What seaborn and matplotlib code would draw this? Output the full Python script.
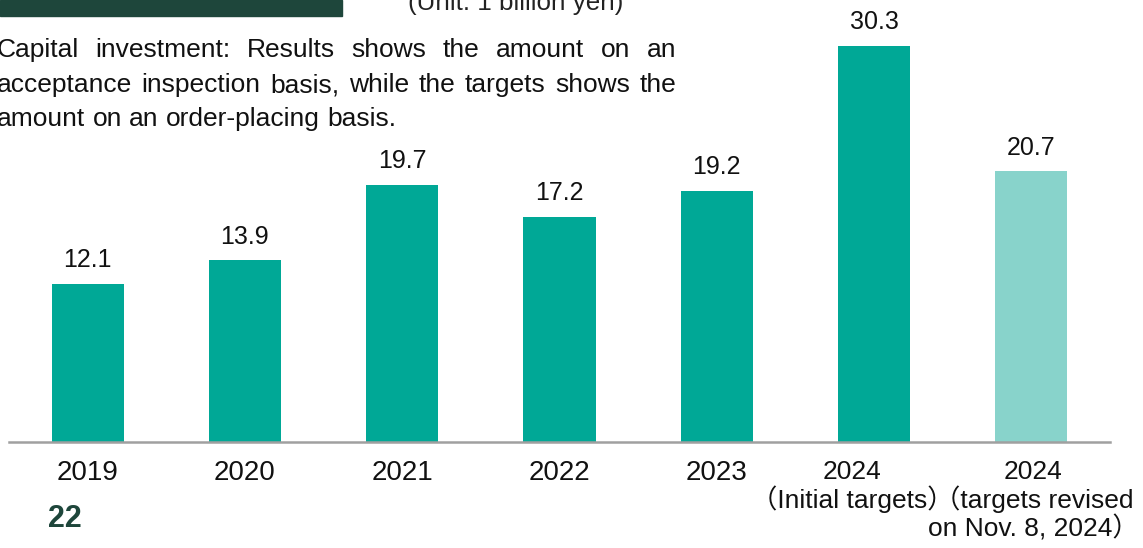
import matplotlib
matplotlib.use("Agg")
import matplotlib.pyplot as plt
import matplotlib.transforms as mtransforms
import seaborn as sns
from matplotlib.patches import Rectangle

categories = ["2019", "2020", "2021", "2022", "2023",
              "2024\n（Initial targets）",
              "2024\n（targets revised\non Nov. 8, 2024）"]
values = [12.1, 13.9, 19.7, 17.2, 19.2, 30.3, 20.7]
bar_colors = ["#00a896", "#00a896", "#00a896", "#00a896", "#00a896", "#00a896", "#88d3cb"]
note_lines = ["Capital investment: Results shows the amount on an",
              "acceptance inspection basis, while the targets shows the",
              "amount on an order-placing basis."]
unit_text = "(Unit: 1 billion yen)"
page_number = "22"

sns.set_theme(style="white")
plt.rcParams["font.family"] = ["Liberation Sans", "Noto Sans CJK JP", "DejaVu Sans"]

W, H = 1143, 548
fig = plt.figure(figsize=(W / 100, H / 100), dpi=100)
ax = fig.add_axes([9 / W, (H - 442) / H, 1101 / W, 442 / H])

sns.barplot(x=categories, y=values, hue=categories, palette=bar_colors,
            width=0.458, saturation=1, legend=False, ax=ax, linewidth=0)

for c in ax.containers:
    ax.bar_label(c, fmt="%.1f", padding=8.5, fontsize=18, color="#111111")

ax.set_xlim(-0.5, 6.5)
ax.set_ylim(0, 442 / 13.07)
ax.set_xlabel("")
ax.set_ylabel("")
ax.set_yticks([])
ax.tick_params(axis="x", length=0, pad=13, labelsize=20, colors="#111111")
labels = ax.get_xticklabels()
for lbl in labels:
    lbl.set_linespacing(1.08)
# the two 2024 labels: slightly smaller and nudged apart so they do not collide
labels[5].set_fontsize(19)
labels[6].set_fontsize(19)
labels[5].set_transform(labels[5].get_transform() +
                        mtransforms.ScaledTranslation(-0.22, 0, fig.dpi_scale_trans))
labels[6].set_transform(labels[6].get_transform() +
                        mtransforms.ScaledTranslation(0.02, 0, fig.dpi_scale_trans))
for s in ["top", "left", "right"]:
    ax.spines[s].set_visible(False)
ax.spines["bottom"].set_color("#a0a0a0")
ax.spines["bottom"].set_linewidth(1.8)

# header box
fig.patches.append(Rectangle((0, 1 - 16 / H), 342 / W, 16 / H,
                             transform=fig.transFigure, color="#1e463b", zorder=5))
fig.text(516 / W, 1 - 10 / H, unit_text, ha="center", va="baseline",
         fontsize=18.7, color="#222222")

# justified note text
renderer = fig.canvas.get_renderer()
fs = 19
x0, x1 = -3, 676
baselines = [57, 92, 126]
for i, line in enumerate(note_lines):
    words = line.split(" ")
    texts = [fig.text(0, 1 - baselines[i] / H, w, fontsize=fs, color="#111111",
                      ha="left", va="baseline") for w in words]
    widths = [t.get_window_extent(renderer).width for t in texts]
    if i < len(note_lines) - 1:
        gap = (x1 - x0 - sum(widths)) / (len(words) - 1)
    else:
        sp = fig.text(0, 0, "a a", fontsize=fs)
        sp2 = fig.text(0, 0, "aa", fontsize=fs)
        gap = sp.get_window_extent(renderer).width - sp2.get_window_extent(renderer).width
        sp.remove(); sp2.remove()
    x = x0
    for t, w in zip(texts, widths):
        t.set_x(x / W)
        x += w + gap

fig.text(48 / W, 1 - 527 / H, page_number, fontsize=22, fontweight="bold",
         color="#1e463b", ha="left", va="baseline")

fig.savefig("out.png", dpi=100)
